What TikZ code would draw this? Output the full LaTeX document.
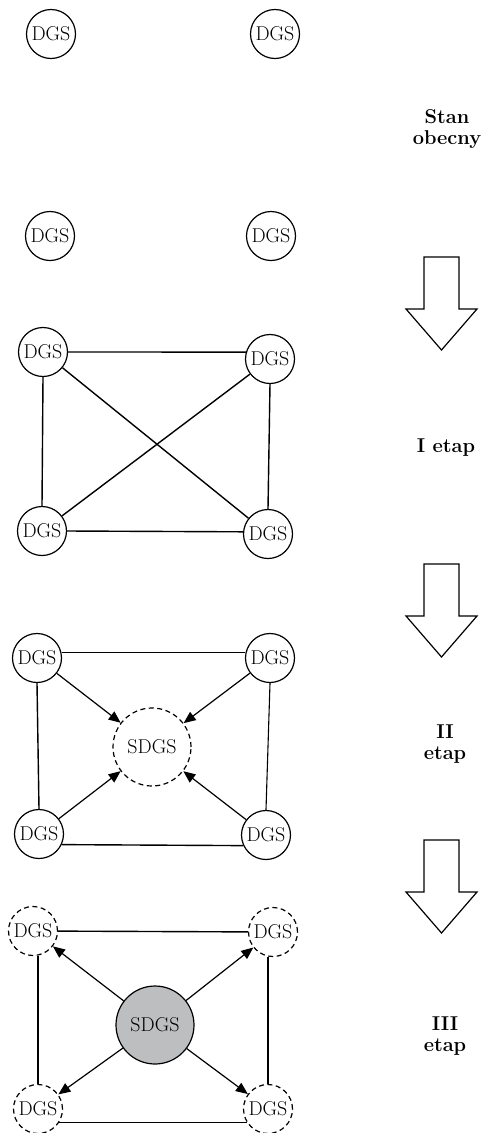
\documentclass[tikz,border=0pt]{standalone}
\usetikzlibrary{arrows.meta}
\definecolor{sgray}{HTML}{BDBEC0}
\begin{document}
\begin{tikzpicture}[x=1pt,y=-1pt,
  dgs/.style={circle,draw,line width=1.2pt,minimum size=49pt,inner sep=0pt,font=\fontsize{20}{22}\selectfont},
  dgsd/.style={dgs,dash pattern=on 5pt off 3.5pt},
  sdgs/.style={circle,draw,line width=1.2pt,minimum size=78pt,inner sep=0pt,font=\fontsize{20}{22}\selectfont},
  link/.style={line width=1.4pt},
  arr/.style={line width=1.2pt,-{Triangle[length=12pt,width=10pt]}},
  lab/.style={font=\bfseries\fontsize{20}{21}\selectfont,align=center,inner sep=0pt},
  bigarrow/.style={draw,line width=1.2pt,line join=miter}]
\useasboundingbox (0,0) rectangle (484,1133);

% Stage 0
\node[dgs] (a1) at (51,34) {DGS};
\node[dgs] (a2) at (275,34) {DGS};
\node[dgs] (a3) at (50,236) {DGS};
\node[dgs] (a4) at (271,236) {DGS};
\node[lab] (l0) at (447,129) {Stan\\obecny};

% Arrow 1
\draw[bigarrow] (424,257) -- (459,257) -- (459,309) -- (477,309) -- (441.5,350) -- (406,309) -- (424,309) -- cycle;

% Stage I
\node[dgs] (b1) at (43,352) {DGS};
\node[dgs] (b2) at (270,359) {DGS};
\node[dgs] (b3) at (42,531) {DGS};
\node[dgs] (b4) at (268,534) {DGS};
\draw[link] (b1.east) -- (b2.164);
\draw[link] (b1.south) -- (b3.north);
\draw[link] (b2.south) -- (b4.north);
\draw[link] (b3.east) -- (b4.175);
\draw[link] (b1) -- (b4);
\draw[link] (b2) -- (b3);
\node[lab,anchor=base] (l1) at (446,452) {I etap};

% Arrow 2
\draw[bigarrow] (424,564) -- (459,564) -- (459,616) -- (477,616) -- (441.5,657) -- (406,616) -- (424,616) -- cycle;

% Stage II
\node[dgs] (c1) at (37,658) {DGS};
\node[dgs] (c2) at (270,658) {DGS};
\node[dgs] (c3) at (39,834) {DGS};
\node[dgs] (c4) at (266,835) {DGS};
\node[sdgs,dash pattern=on 5pt off 3.5pt] (cs) at (152,747) {SDGS};
\draw[link] (c1.12) -- (c2.168);
\draw[link] (c1.south) -- (c3.north);
\draw[link,line width=1.1pt] (c2.south) -- (c4.north);
\draw[link] (c3.-25) -- (c4.-155);
\draw[arr] (c1) -- (cs);
\draw[arr] (c2) -- (cs);
\draw[arr] (c3) -- (cs);
\draw[arr] (c4) -- (cs);
\node[lab] (l2) at (445,744) {II\\etap};

% Arrow 3
\draw[bigarrow] (424,840) -- (459,840) -- (459,892) -- (477,892) -- (441.5,933) -- (406,892) -- (424,892) -- cycle;

% Stage III
\node[dgsd] (d1) at (33,931) {DGS};
\node[dgsd] (d2) at (273,932) {DGS};
\node[dgsd] (d3) at (38,1109) {DGS};
\node[dgsd] (d4) at (268,1109) {DGS};
\node[sdgs,fill=sgray] (ds) at (155,1025) {SDGS};
\draw[link] (d1) -- (d2);
\draw[link] (d3.north) -- (d3.north |- d1.south);
\draw[link] (d4.north) -- (d4.north |- d2.south);
\draw[link] (d3.-33) -- (d4.-147);
\draw[arr] (ds) -- (d1);
\draw[arr] (ds) -- (d2);
\draw[arr] (ds) -- (d3);
\draw[arr] (ds) -- (d4);
\node[lab] (l3) at (445,1036) {III\\etap};
\end{tikzpicture}
\end{document}
